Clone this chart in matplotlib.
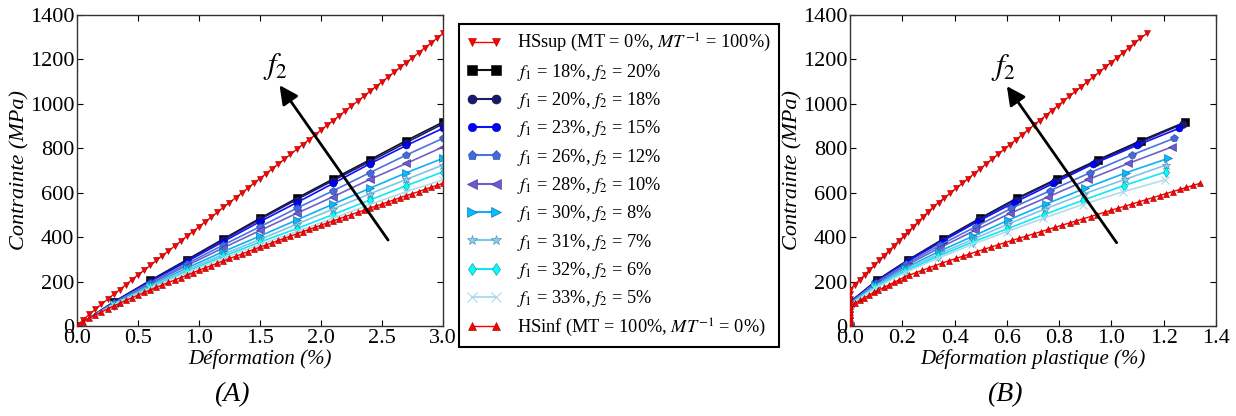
import numpy as np
import matplotlib
matplotlib.use("Agg")
import matplotlib.pyplot as plt
from matplotlib.lines import Line2D

# ---- donnees ----
# deformation totale (%) des courbes f1/f2 (11 points)
strainMid = [0.0, 0.3, 0.6, 0.9, 1.2, 1.5, 1.8, 2.1, 2.4, 2.7, 3.0]
# deformation totale (%) des bornes HS (61 points, pas de 0.05)
strainBound = np.linspace(0.0, 3.0, 61)

# contrainte (MPa) des bornes
hsSup = [0, 28, 52, 75, 98, 120, 142, 164, 186, 208,
         230, 251, 273, 295, 317, 338, 360, 382, 404, 425,
         447, 469, 490, 512, 534, 556, 577, 599, 621, 643,
         664, 686, 708, 730, 751, 773, 795, 817, 838, 860,
         882, 904, 925, 947, 969, 991, 1012, 1034, 1056, 1078,
         1099, 1121, 1143, 1165, 1186, 1208, 1230, 1252, 1273, 1295,
         1317]
hsInf = [0, 19, 35, 50, 63, 77, 90, 102, 115, 127,
         139, 151, 162, 174, 185, 196, 207, 218, 229, 240,
         251, 262, 272, 283, 293, 304, 314, 324, 335, 345,
         355, 365, 375, 385, 395, 405, 415, 425, 435, 444,
         454, 464, 473, 483, 493, 502, 512, 521, 531, 540,
         549, 559, 568, 578, 587, 596, 605, 615, 624, 633,
         642]

# deformation plastique (%) des bornes (panneau B)
hsSupPlast = [0, 0, 0, 0, 0, 0, 0, 0,
              0.018, 0.037, 0.056, 0.074, 0.093, 0.112, 0.130, 0.149, 0.167, 0.186,
              0.205, 0.223, 0.242, 0.261, 0.279, 0.298, 0.317, 0.339, 0.361, 0.384,
              0.407, 0.430, 0.452, 0.475, 0.498, 0.521, 0.543, 0.566, 0.589, 0.612,
              0.634, 0.657, 0.680, 0.703, 0.725, 0.748, 0.771, 0.794, 0.816, 0.839,
              0.862, 0.885, 0.907, 0.930, 0.953, 0.976, 0.998, 1.021, 1.044, 1.066,
              1.088, 1.111, 1.135]
hsInfPlast = [0, 0, 0, 0, 0, 0, 0,
              0.018, 0.037, 0.055, 0.073, 0.091, 0.109, 0.130, 0.149, 0.168, 0.186,
              0.205, 0.226, 0.252, 0.277, 0.302, 0.326, 0.352, 0.377, 0.405, 0.431,
              0.457, 0.485, 0.512, 0.539, 0.565, 0.592, 0.620, 0.647, 0.675, 0.703,
              0.731, 0.759, 0.784, 0.812, 0.840, 0.865, 0.893, 0.921, 0.946, 0.974,
              0.999, 1.027, 1.053, 1.078, 1.106, 1.131, 1.159, 1.184, 1.209, 1.234,
              1.262, 1.287, 1.313, 1.338]

# contrainte (MPa) des courbes f1/f2
sig18 = [0, 108, 205, 298, 392, 485, 575, 662, 748, 835, 918]
sig20 = [0, 107, 203, 295, 388, 480, 569, 655, 740, 826, 910]
sig23 = [0, 106, 200, 290, 380, 470, 555, 642, 730, 813, 890]
sig26 = [0, 104, 195, 280, 365, 447, 530, 609, 690, 770, 845]
sig28 = [0, 102, 190, 272, 352, 430, 507, 582, 660, 732, 806]
sig30 = [0, 100, 183, 261, 335, 405, 477, 549, 620, 690, 755]
sig31 = [0, 98, 178, 253, 323, 390, 458, 527, 595, 660, 725]
sig32 = [0, 96, 174, 246, 314, 378, 438, 502, 567, 632, 694]
sig33 = [0, 95, 170, 240, 305, 367, 425, 485, 547, 605, 658]

# deformation plastique (%) des courbes f1/f2 (panneau B)
eps18 = [0, 0, 0.102, 0.223, 0.357, 0.497, 0.638, 0.791, 0.948, 1.114, 1.282]
eps20 = [0, 0, 0.101, 0.221, 0.354, 0.494, 0.634, 0.786, 0.942, 1.107, 1.274]
eps23 = [0, 0, 0.100, 0.219, 0.351, 0.488, 0.627, 0.778, 0.931, 1.097, 1.259]
eps26 = [0, 0, 0.099, 0.216, 0.345, 0.481, 0.617, 0.765, 0.918, 1.078, 1.240]
eps28 = [0, 0, 0.098, 0.214, 0.343, 0.477, 0.612, 0.759, 0.912, 1.065, 1.231]
eps30 = [0, 0, 0.097, 0.212, 0.339, 0.472, 0.606, 0.750, 0.899, 1.056, 1.218]
eps31 = [0, 0, 0.096, 0.211, 0.337, 0.470, 0.603, 0.746, 0.895, 1.052, 1.209]
eps32 = [0, 0, 0.096, 0.210, 0.337, 0.469, 0.602, 0.743, 0.893, 1.048, 1.208]
eps33 = [0, 0, 0.096, 0.210, 0.336, 0.467, 0.600, 0.740, 0.890, 1.046, 1.205]

labels = ["$f_1$ = 18%, $f_2$ = 20%", "$f_1$ = 20%, $f_2$ = 18%",
          "$f_1$ = 23%, $f_2$ = 15%", "$f_1$ = 26%, $f_2$ = 12%",
          "$f_1$ = 28%, $f_2$ = 10%", "$f_1$ = 30%, $f_2$ = 8%",
          "$f_1$ = 31%, $f_2$ = 7%", "$f_1$ = 32%, $f_2$ = 6%",
          "$f_1$ = 33%, $f_2$ = 5%"]
labelSup = "HSsup (MT = 0%, $MT^{-1}$ = 100%)"
labelInf = "HSinf (MT = 100%, $MT^{-1}$ = 0%)"

midStress = [sig18, sig20, sig23, sig26, sig28, sig30, sig31, sig32, sig33]
midPlast = [eps18, eps20, eps23, eps26, eps28, eps30, eps31, eps32, eps33]

# styles : (couleur ligne, marqueur, face, bord, taille)
styles = [("#101020", "s", "#000000", "#000000", 5.5),
          ("#1c1c6e", "o", "#191970", "#101040", 5.5),
          ("#1010ff", "o", "#0000ff", "#00008b", 5.0),
          ("#4a74e0", "p", "#4169e1", "#27408b", 5.5),
          ("#7060c8", "<", "#6a5acd", "#3d2f8f", 5.5),
          ("#10b0f0", ">", "#00bfff", "#1060a0", 5.5),
          ("#80c4e8", "*", "#87ceeb", "#4682b4", 6.5),
          ("#10e8f0", "d", "#00ffff", "#008b8b", 5.5),
          ("#b0dcec", "x", "#add8e6", "#add8e6", 5.5)]

plt.rcParams['font.family'] = ['Liberation Serif', 'DejaVu Serif']
plt.rcParams['mathtext.fontset'] = 'stix'


def DrawPanel(ax, xSup, xInf, xMid, xMax, xTicks, xLabel, arrowTail, arrowHead):
    ax.plot(xSup, hsSup, color="red", lw=1.0, marker="v", ms=5,
            mfc="red", mec="#990000", mew=0.4, zorder=3)
    for (col, mk, fc, ec, ms), xs, ys in zip(styles, xMid, midStress):
        ax.plot(xs, ys, color=col, lw=1.2, marker=mk, ms=ms,
                mfc=fc, mec=ec, mew=0.8 if mk == "x" else 0.4, zorder=2)
    ax.plot(xInf, hsInf, color="red", lw=1.0, marker="^", ms=5,
            mfc="red", mec="#990000", mew=0.4, zorder=3)

    ax.set_xlim(0, xMax)
    ax.set_ylim(0, 1400)
    ax.set_xticks(xTicks)
    ax.set_xticklabels(["%.1f" % t for t in xTicks])
    ax.set_yticks(range(0, 1401, 200))
    ax.tick_params(direction="in", top=True, right=True, length=4,
                   labelsize=16, pad=2)
    for sp in ax.spines.values():
        sp.set_color("#333333")
        sp.set_linewidth(1.0)
    ax.set_xlabel(xLabel, fontsize=15, fontstyle="italic", labelpad=1)
    ax.set_ylabel("Contrainte (MPa)", fontsize=16, fontstyle="italic", labelpad=0)

    ax.annotate("", xy=arrowHead, xytext=arrowTail,
                arrowprops=dict(arrowstyle="-|>", lw=2, color="k",
                                mutation_scale=28, shrinkA=0, shrinkB=0))
    ax.text(arrowHead[0] - 0.01 * xMax, arrowHead[1] + 15, "$f_2$",
            fontsize=22, ha="center", va="bottom")


fig = plt.figure(figsize=(12.36, 4.16), dpi=100)
ax1 = fig.add_axes([0.0623, 0.2163, 0.2961, 0.7476])
ax2 = fig.add_axes([0.6877, 0.2163, 0.2961, 0.7476])

DrawPanel(ax1, strainBound, strainBound, [strainMid] * 9, 3.0,
          [0.0, 0.5, 1.0, 1.5, 2.0, 2.5, 3.0], "Déformation (%)",
          (2.55, 387), (1.66, 1084))
DrawPanel(ax2, hsSupPlast, hsInfPlast, midPlast, 1.4,
          [0.0, 0.2, 0.4, 0.6, 0.8, 1.0, 1.2, 1.4], "Déformation plastique (%)",
          (1.02, 375), (0.6, 1080))

handles = [Line2D([], [], color="red", lw=1.0, marker="v", ms=6,
                  mfc="red", mec="#990000", mew=0.4)]
for col, mk, fc, ec, ms in styles:
    handles.append(Line2D([], [], color=col, lw=1.5, marker=mk, ms=ms + 1,
                          mfc=fc, mec=ec, mew=0.8 if mk == "x" else 0.4))
handles.append(Line2D([], [], color="red", lw=1.0, marker="^", ms=6,
                      mfc="red", mec="#990000", mew=0.4))

leg = fig.legend(handles, [labelSup] + labels + [labelInf],
                 loc="center", bbox_to_anchor=(0.5008, 0.554),
                 fontsize=13.2, numpoints=2, handlelength=1.9,
                 labelspacing=0.40, borderpad=0.45, handletextpad=0.85,
                 borderaxespad=0, fancybox=False, framealpha=1)
leg.get_frame().set_edgecolor("k")
leg.get_frame().set_linewidth(1.5)

fig.text(232 / 1236, 1 - 395 / 416, "(A)", fontsize=20, fontstyle="italic",
         ha="center", va="center")
fig.text(1005 / 1236, 1 - 395 / 416, "(B)", fontsize=20, fontstyle="italic",
         ha="center", va="center")

fig.savefig("out.png", dpi=100)
